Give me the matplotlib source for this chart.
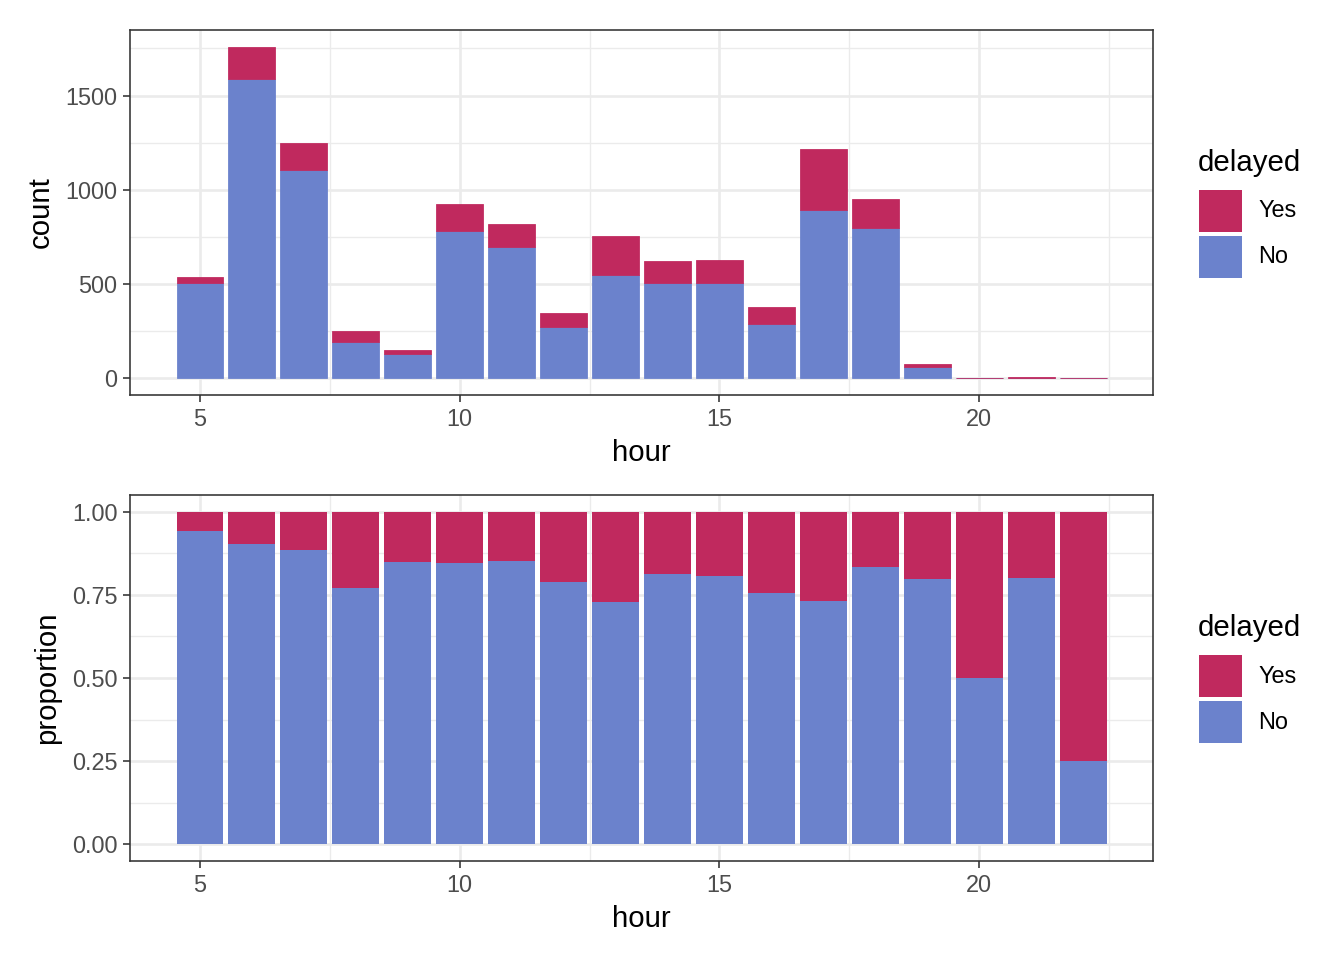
import matplotlib
matplotlib.use("Agg")
import matplotlib.pyplot as plt
from matplotlib.patches import Rectangle
from matplotlib.ticker import MultipleLocator
import numpy as np

plt.rcParams["font.family"] = ["Liberation Sans", "DejaVu Sans"]

# counts of flights by departure hour, split by delay status
hours = [5, 6, 7, 8, 9, 10, 11, 12, 13, 14, 15, 16, 17, 18, 19, 20, 21, 22]
no_counts = [507, 1589, 1105, 195, 130, 781, 697, 274, 549, 505, 505, 286, 891, 796, 63, 1, 4, 1]
yes_counts = [32, 171, 146, 58, 23, 143, 121, 74, 206, 116, 122, 92, 327, 158, 16, 1, 1, 3]
legend_labels = ["Yes", "No"]

YES_COL = "#C0295E"
NO_COL = "#6B82CC"
GRID = "#EBEBEB"
TXT = "#4D4D4D"

h = np.array(hours)
no = np.array(no_counts, dtype=float)
yes = np.array(yes_counts, dtype=float)
tot = no + yes

fig = plt.figure(figsize=(7, 5), dpi=192)
ax1 = fig.add_axes([130 / 1344, 1 - 395 / 960, 1023 / 1344, 365 / 960])
ax2 = fig.add_axes([130 / 1344, 1 - 861 / 960, 1023 / 1344, 366 / 960])


def style(ax, ymax, ymajor, yfmt):
    lo = -0.05 * ymax
    ax.set_ylim(lo, ymax * 1.05)
    ax.set_xlim(4.55 - 0.895, 22.45 + 0.895)
    ax.yaxis.set_major_locator(MultipleLocator(ymajor))
    ax.yaxis.set_minor_locator(MultipleLocator(ymajor / 2))
    ax.set_xticks([5, 10, 15, 20])
    ax.set_xticks([7.5, 12.5, 17.5, 22.5], minor=True)
    ax.grid(which="major", color=GRID, linewidth=1.0, zorder=0)
    ax.grid(which="minor", color=GRID, linewidth=0.5, zorder=0)
    ax.set_axisbelow(True)
    for s in ax.spines.values():
        s.set_color("#333333")
        s.set_linewidth(0.6)
    ax.tick_params(which="major", length=2.75, width=0.6, color="#333333",
                   labelsize=8.8, labelcolor=TXT, pad=2)
    ax.tick_params(which="minor", length=0)
    ax.yaxis.set_major_formatter(yfmt)
    ax.set_xlabel("hour", fontsize=11, labelpad=3)


def legend(ax):
    pos = ax.get_position()
    yc = pos.y0 + pos.height / 2 + 6 / 960
    fig.text(1198 / 1344, yc + 0.0458, "delayed", fontsize=11, ha="left", va="center")
    kw = 43 / 1344
    kh = 42 / 960
    for i, (lab, col) in enumerate(zip(legend_labels, [YES_COL, NO_COL])):
        y0 = yc + 0.0177 - (i + 1) * kh - i * 4 / 960
        fig.patches.append(Rectangle((1199 / 1344, y0), kw, kh, transform=fig.transFigure,
                                     facecolor=col, edgecolor="none"))
        fig.text(1258 / 1344, y0 + kh / 2, lab, fontsize=8.8, ha="left", va="center")


# top: counts (thin edge keeps the tiny late-evening bars visible)
ax1.bar(h, no, width=0.9, color=NO_COL, edgecolor=NO_COL, linewidth=0.3, zorder=2)
ax1.bar(h, yes, width=0.9, bottom=no, color=YES_COL, edgecolor=YES_COL, linewidth=0.3, zorder=2)
style(ax1, 1760, 500, matplotlib.ticker.FuncFormatter(lambda v, p: f"{v:.0f}"))
ax1.set_ylabel("count", fontsize=11, labelpad=4)

# bottom: proportions
ax2.bar(h, no / tot, width=0.9, color=NO_COL, zorder=2)
ax2.bar(h, yes / tot, width=0.9, bottom=no / tot, color=YES_COL, zorder=2)
style(ax2, 1.0, 0.25, matplotlib.ticker.FuncFormatter(lambda v, p: f"{v:.2f}"))
ax2.set_ylabel("proportion", fontsize=11, labelpad=4)

legend(ax1)
legend(ax2)

fig.savefig("out.png", dpi=192)
